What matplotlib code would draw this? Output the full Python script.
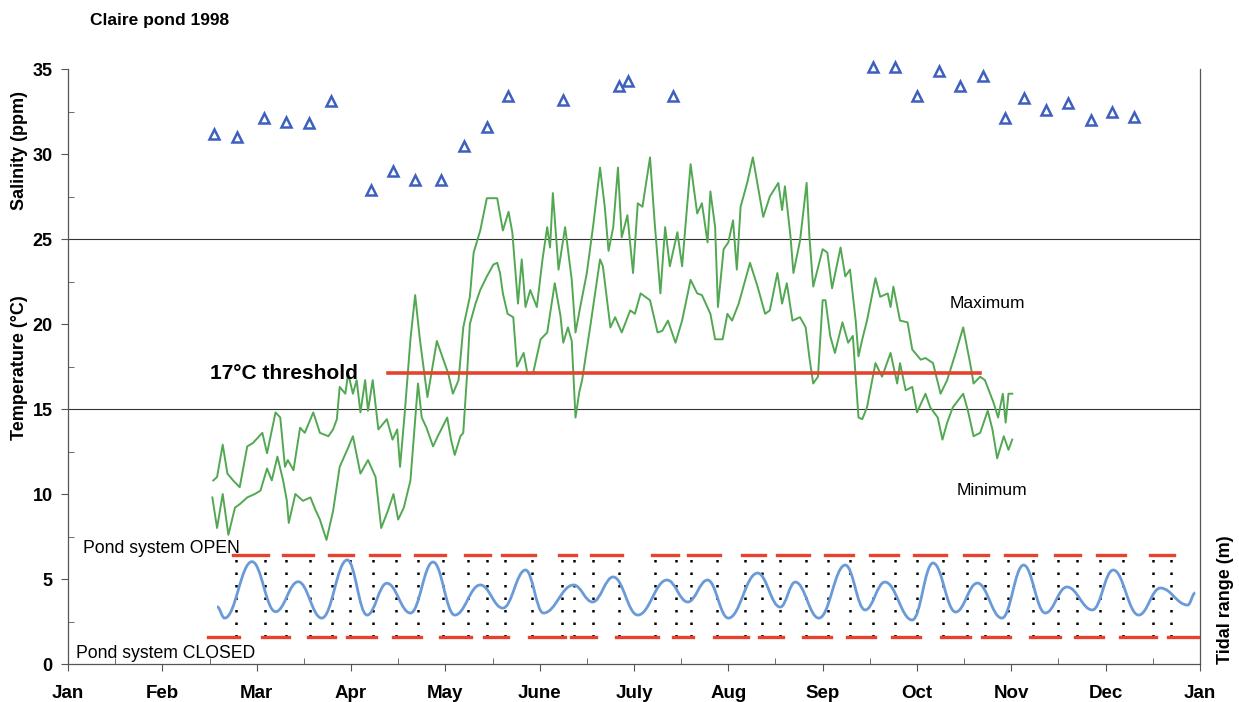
import matplotlib
matplotlib.use("Agg")
import matplotlib.pyplot as plt
from matplotlib.path import Path
from matplotlib.patches import PathPatch
from matplotlib.ticker import MultipleLocator

plt.rcParams['font.family'] = ['Liberation Sans', 'DejaVu Sans']

# x values are in months since 1 Jan 1998 (0 = Jan, 12 = next Jan)
months = ["Jan", "Feb", "Mar", "Apr", "May", "June", "July", "Aug",
          "Sep", "Oct", "Nov", "Dec", "Jan"]

# salinity samples (ppm)
sal_t = [1.55, 1.79, 2.08, 2.31, 2.55, 2.79, 3.21, 3.45, 3.68, 3.95, 4.20,
         4.44, 4.66, 5.25, 5.84, 5.94, 6.41, 8.53, 8.77, 9.00, 9.23, 9.46,
         9.70, 9.93, 10.13, 10.37, 10.60, 10.84, 11.07, 11.30]
sal_v = [31.2, 31.0, 32.1, 31.9, 31.8, 33.1, 27.9, 29.0, 28.5, 28.5, 30.5,
         31.6, 33.4, 33.2, 34.0, 34.3, 33.4, 35.1, 35.1, 33.4, 34.9, 34.0,
         34.6, 32.1, 33.3, 32.6, 33.0, 32.0, 32.5, 32.2]

# daily maximum water temperature (deg C)
tmax_t = [1.54, 1.58, 1.64, 1.69, 1.75, 1.82, 1.90, 1.96, 2.06, 2.11, 2.20,
          2.25, 2.30, 2.33, 2.39, 2.46, 2.51, 2.60, 2.67, 2.76, 2.81, 2.85,
          2.88, 2.94, 2.97, 3.02, 3.06, 3.10, 3.15, 3.18, 3.23, 3.29, 3.38,
          3.44, 3.49, 3.52, 3.57, 3.63, 3.68, 3.73, 3.81, 3.91, 3.98, 4.03,
          4.08, 4.14, 4.19, 4.26, 4.30, 4.37, 4.44, 4.55, 4.61, 4.67, 4.71,
          4.77, 4.81, 4.85, 4.90, 4.97, 5.03, 5.08, 5.11, 5.14, 5.20, 5.27,
          5.34, 5.38, 5.43, 5.50, 5.57, 5.64, 5.69, 5.73, 5.78, 5.83, 5.87,
          5.93, 5.99, 6.04, 6.09, 6.17, 6.22, 6.28, 6.33, 6.38, 6.46, 6.51,
          6.60, 6.67, 6.72, 6.78, 6.81, 6.86, 6.89, 6.95, 7.00, 7.05, 7.09,
          7.13, 7.20, 7.26, 7.37, 7.44, 7.53, 7.57, 7.60, 7.66, 7.69, 7.76,
          7.83, 7.86, 7.90, 8.00, 8.05, 8.10, 8.19, 8.24, 8.29, 8.35, 8.38,
          8.42, 8.47, 8.56, 8.61, 8.69, 8.72, 8.75, 8.82, 8.90, 8.95, 9.04,
          9.09, 9.17, 9.25, 9.32, 9.41, 9.49, 9.57, 9.60, 9.67, 9.72, 9.81,
          9.86, 9.91, 9.94, 9.97, 10.01]
tmax_v = [10.8, 11.0, 12.9, 11.2, 10.8, 10.4, 12.8, 13.0, 13.6, 12.4, 14.8,
          14.5, 11.6, 12.0, 11.4, 13.9, 13.6, 14.8, 13.6, 13.4, 13.8, 14.4,
          16.3, 15.9, 17.1, 15.9, 16.7, 14.8, 16.7, 14.9, 16.7, 13.8, 14.4,
          13.2, 13.8, 11.6, 14.8, 19.1, 21.7, 19.1, 15.7, 19.0, 17.9, 17.1,
          15.9, 16.7, 19.8, 21.6, 24.2, 25.5, 27.4, 27.4, 25.5, 26.6, 25.4,
          21.2, 23.8, 21.0, 22.0, 21.0, 23.8, 25.7, 24.5, 27.7, 23.2, 25.7,
          22.6, 19.5, 21.0, 23.0, 25.9, 29.2, 26.9, 24.3, 25.7, 29.2, 25.1,
          26.4, 23.0, 27.1, 26.9, 29.8, 25.9, 21.8, 25.7, 23.4, 25.4, 23.4,
          29.4, 26.5, 27.1, 24.8, 27.8, 25.7, 21.0, 24.4, 24.8, 26.1, 23.2,
          26.9, 28.3, 29.8, 26.3, 27.5, 28.3, 26.7, 28.1, 25.1, 23.0, 24.9,
          28.3, 25.1, 22.2, 24.4, 24.2, 22.1, 24.5, 22.8, 23.2, 20.2, 18.1,
          19.1, 20.2, 22.7, 21.6, 21.8, 21.0, 22.2, 20.2, 20.1, 18.5, 17.9,
          18.0, 17.7, 15.9, 16.7, 18.3, 19.8, 17.5, 16.5, 16.9, 16.7, 15.4,
          14.5, 15.9, 14.2, 15.9, 15.9]

# daily minimum water temperature (deg C)
tmin_t = [1.53, 1.58, 1.64, 1.70, 1.77, 1.82, 1.90, 1.98, 2.04, 2.11, 2.16,
          2.22, 2.28, 2.32, 2.34, 2.41, 2.49, 2.57, 2.62, 2.67, 2.74, 2.81,
          2.88, 2.96, 3.02, 3.10, 3.18, 3.26, 3.32, 3.39, 3.45, 3.50, 3.56,
          3.63, 3.71, 3.75, 3.80, 3.87, 3.92, 4.02, 4.06, 4.10, 4.16, 4.19,
          4.23, 4.26, 4.32, 4.37, 4.44, 4.51, 4.55, 4.58, 4.61, 4.66, 4.72,
          4.76, 4.83, 4.87, 4.93, 5.01, 5.08, 5.16, 5.22, 5.25, 5.30, 5.34,
          5.38, 5.42, 5.45, 5.54, 5.64, 5.67, 5.75, 5.80, 5.87, 5.96, 6.01,
          6.07, 6.12, 6.17, 6.25, 6.30, 6.36, 6.44, 6.51, 6.60, 6.67, 6.72,
          6.81, 6.86, 6.94, 6.99, 7.04, 7.11, 7.23, 7.31, 7.39, 7.44, 7.52,
          7.57, 7.62, 7.68, 7.76, 7.82, 7.86, 7.90, 7.95, 8.00, 8.03, 8.08,
          8.13, 8.21, 8.27, 8.32, 8.38, 8.42, 8.47, 8.56, 8.63, 8.72, 8.79,
          8.82, 8.88, 8.95, 9.00, 9.09, 9.14, 9.22, 9.27, 9.32, 9.38, 9.49,
          9.54, 9.60, 9.67, 9.75, 9.80, 9.85, 9.92, 9.97, 10.01]
tmin_v = [9.8, 8.0, 10.0, 7.6, 9.2, 9.4, 9.8, 10.0, 10.2, 11.5, 10.8,
          12.2, 10.8, 9.6, 8.3, 10.0, 9.6, 9.8, 9.1, 8.5, 7.3, 9.0,
          11.6, 12.6, 13.4, 11.2, 12.0, 11.0, 8.0, 9.0, 10.0, 8.5, 9.2,
          10.8, 16.5, 14.5, 13.9, 12.8, 13.4, 14.5, 13.2, 12.3, 13.4, 13.6,
          17.0, 20.0, 21.2, 22.0, 22.8, 23.5, 23.6, 23.0, 21.8, 20.6, 20.4,
          17.5, 18.3, 17.1, 17.1, 19.1, 19.5, 22.4, 20.5, 18.9, 19.8, 19.0,
          14.5, 16.0, 16.7, 20.0, 23.8, 23.4, 19.8, 20.4, 19.5, 20.8, 20.6,
          21.8, 21.6, 21.4, 19.5, 19.6, 20.2, 18.9, 20.2, 22.6, 21.8, 21.7,
          20.6, 19.1, 19.1, 20.6, 20.2, 21.2, 23.6, 22.2, 20.6, 20.8, 23.0,
          21.2, 22.4, 20.2, 20.4, 19.8, 18.0, 16.5, 16.9, 21.4, 21.4, 19.3,
          18.3, 20.1, 18.9, 19.3, 14.5, 14.4, 15.1, 17.7, 16.9, 18.3, 16.5,
          17.7, 16.1, 16.3, 14.8, 15.9, 15.1, 14.5, 13.2, 14.2, 15.1, 15.9,
          14.9, 13.4, 13.6, 14.9, 13.8, 12.1, 13.4, 12.6, 13.2]

# 17 C threshold period
thr_value = 17.1
thr_start, thr_end = 3.39, 9.67

# tidal range (m): turning points of the spring/neap curve
tide_t = [1.58, 1.66, 1.95, 2.20, 2.44, 2.69, 2.96, 3.17, 3.38, 3.63, 3.87,
          4.10, 4.37, 4.61, 4.85, 5.04, 5.36, 5.56, 5.78, 6.04, 6.35, 6.57,
          6.78, 7.00, 7.31, 7.55, 7.71, 7.96, 8.24, 8.45, 8.66, 8.95, 9.17,
          9.41, 9.64, 9.90, 10.13, 10.36, 10.59, 10.86, 11.08, 11.35, 11.58,
          11.87, 11.95]
tide_v = [3.37, 2.70, 6.02, 3.08, 4.84, 2.70, 6.12, 2.88, 4.75, 3.00, 6.00,
          2.88, 4.65, 3.29, 5.53, 3.00, 4.65, 3.65, 5.12, 2.88, 4.94, 3.65,
          4.94, 2.70, 5.35, 3.35, 4.82, 2.70, 5.82, 3.18, 4.82, 2.59, 5.94,
          3.06, 4.76, 2.70, 5.82, 3.00, 4.53, 3.18, 5.53, 2.88, 4.47,
          3.47, 4.18]

# pond gate: switches between CLOSED (low) and OPEN (high)
gate_first, gate_last = 1.48, 11.98
gate_switch = [1.78, 2.09, 2.31, 2.57, 2.80, 2.99, 3.23, 3.48, 3.71, 3.97,
               4.24, 4.44, 4.63, 4.92, 5.24, 5.36, 5.57, 5.84, 6.22, 6.44,
               6.60, 6.88, 7.18, 7.36, 7.55, 7.82, 8.06, 8.29, 8.53, 8.77,
               9.00, 9.28, 9.53, 9.72, 9.96, 10.23, 10.49, 10.70, 10.94,
               11.18, 11.50, 11.69]
gate_open, gate_closed = 6.4, 1.6

GREEN = "#52a852"
RED = "#e5432f"
BLUE = "#6a9ad8"
TRI = "#3d5fbf"


def smooth_path(xs, ys):
    # smooth curve through the turning points (flat at each turning point)
    verts = [(xs[0], ys[0])]
    codes = [Path.MOVETO]
    for i in range(len(xs) - 1):
        dx = xs[i + 1] - xs[i]
        verts += [(xs[i] + 0.4 * dx, ys[i]), (xs[i + 1] - 0.4 * dx, ys[i + 1]),
                  (xs[i + 1], ys[i + 1])]
        codes += [Path.CURVE4] * 3
    return Path(verts, codes)


fig = plt.figure(figsize=(12.39, 7.02), dpi=100)
ax = fig.add_axes([0.0549, 0.0541, 0.9136, 0.8476])
ax.set_xlim(0, 12)
ax.set_ylim(0, 35)

# reference lines
for yv in (15, 25):
    ax.axhline(yv, color="#333333", lw=0.8, zorder=1)

# temperature
ax.plot(tmax_t, tmax_v, color=GREEN, lw=1.4, zorder=3)
ax.plot(tmin_t, tmin_v, color=GREEN, lw=1.4, zorder=3)
ax.plot([thr_start, thr_end], [thr_value, thr_value], color=RED, lw=2.6, zorder=4)

# salinity
ax.plot(sal_t, sal_v, linestyle="none", marker="^", markersize=7,
        markerfacecolor="none", markeredgecolor=TRI, markeredgewidth=1.8,
        clip_on=False, zorder=5)

# pond gate state
edges = [gate_first] + gate_switch + [gate_last]
for i in range(len(edges) - 1):
    level = gate_closed if i % 2 == 0 else gate_open
    a = edges[i] - (0.0 if i == 0 else 0.03)
    b = edges[i + 1] + (0.0 if i == len(edges) - 2 else 0.03)
    ax.plot([a, b], [level, level], color=RED, lw=2.4, zorder=3)
for s in gate_switch:
    ax.plot([s, s], [gate_closed, gate_open], color="black", lw=1.8,
            linestyle=(0, (1, 4)), zorder=2)

# tidal range
ax.add_patch(PathPatch(smooth_path(tide_t, tide_v), facecolor="none",
                       edgecolor=BLUE, lw=2, zorder=4))

# axes styling
for side in ("left", "bottom", "right"):
    ax.spines[side].set_color("#555555")
    ax.spines[side].set_linewidth(0.9)
ax.spines["top"].set_visible(False)
ax.set_xticks(range(13))
ax.set_xticklabels(months, fontsize=13.5, fontweight="bold")
ax.xaxis.set_minor_locator(MultipleLocator(0.5))
ax.set_yticks(range(0, 36, 5))
ax.set_yticklabels([str(v) for v in range(0, 36, 5)], fontsize=13,
                   fontweight="bold")
ax.yaxis.set_minor_locator(MultipleLocator(2.5))
ax.tick_params(axis="x", which="major", direction="out", length=5, pad=10,
               color="#555555")
ax.tick_params(axis="x", which="minor", direction="in", length=4,
               color="#555555")
ax.tick_params(axis="y", which="major", direction="out", length=5, pad=6,
               color="#555555")
ax.tick_params(axis="y", which="minor", direction="in", length=4,
               color="#555555")

# annotations
ax.text(1.51, 17.1, "17°C threshold", fontsize=15, fontweight="bold",
        va="center", ha="left")
ax.text(9.75, 21.2, "Maximum", fontsize=12.5, va="center", ha="center")
ax.text(9.79, 10.2, "Minimum", fontsize=12.5, va="center", ha="center")
ax.text(0.16, 6.8, "Pond system OPEN", fontsize=12.7, va="center", ha="left")
ax.text(0.085, 0.6, "Pond system CLOSED", fontsize=12.7, va="center",
        ha="left")

fig.text(90 / 1239, 1 - 20 / 702, "Claire pond 1998", fontsize=12.5,
         fontweight="bold", va="center", ha="left")
fig.text(20 / 1239, 1 - 150 / 702, "Salinity (ppm)", fontsize=13,
         fontweight="bold", rotation=90, va="center", ha="center")
fig.text(20 / 1239, 1 - 368 / 702, "Temperature (°C)", fontsize=13,
         fontweight="bold", rotation=90, va="center", ha="center")
fig.text(1226 / 1239, 1 - 600 / 702, "Tidal range (m)", fontsize=13,
         fontweight="bold", rotation=90, va="center", ha="center")

fig.savefig("out.png", dpi=100)
